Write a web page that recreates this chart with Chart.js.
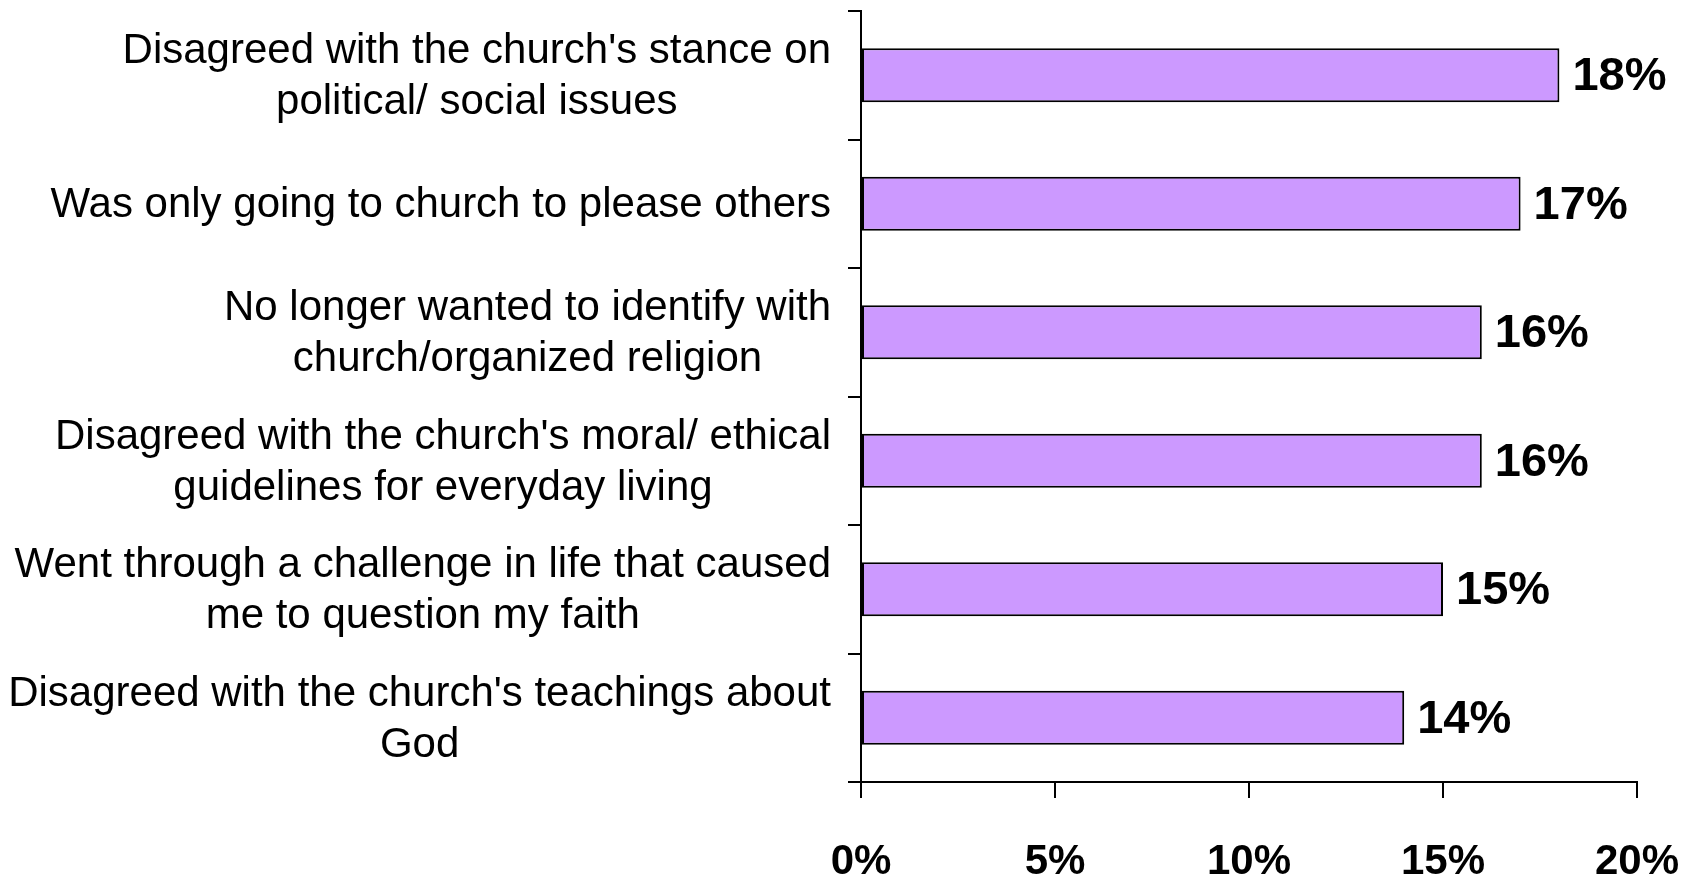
<!DOCTYPE html>
<html>
<head>
<meta charset="utf-8">
<script src="https://cdn.jsdelivr.net/npm/chart.js@4.4.0/dist/chart.umd.min.js"></script>
<style>
  html, body { margin: 0; padding: 0; background: #fff; }
  #wrap { width: 1694px; height: 876px; }
</style>
</head>
<body>
<div id="wrap"><canvas id="grafico"></canvas></div>
<script>
// reasons for leaving, top to bottom
const razones = [
    ["Disagreed with the church's stance on", "political/ social issues"],
    ["Was only going to church to please others"],
    ["No longer wanted to identify with", "church/organized religion"],
    ["Disagreed with the church's moral/ ethical", "guidelines for everyday living"],
    ["Went through a challenge in life that caused", "me to question my faith"],
    ["Disagreed with the church's teachings about", "God"]
];
const porcentajes = [18, 17, 16, 16, 15, 14];
const ticksX = [0, 5, 10, 15, 20];

const FUENTE = '"Liberation Sans", Arial, Helvetica, sans-serif';

// category labels: block right-aligned against the axis, lines centered inside it
const etiquetasCategoria = {
    id: 'etiquetasCategoria',
    afterDraw(chart) {
        const ctx = chart.ctx;
        const y = chart.scales.y;
        const derecha = chart.chartArea.left - 30;
        ctx.save();
        ctx.font = '42px ' + FUENTE;
        ctx.fillStyle = '#000';
        ctx.textAlign = 'center';
        ctx.textBaseline = 'middle';
        razones.forEach((lineas, i) => {
            const cy = y.getPixelForValue(i) + 2;
            const ancho = Math.max(...lineas.map(l => ctx.measureText(l).width));
            const cx = derecha - ancho / 2;
            lineas.forEach((l, j) => {
                ctx.fillText(l, cx, cy + (j - (lineas.length - 1) / 2) * 51);
            });
        });
        ctx.restore();
    }
};

// value labels at the end of each bar
const etiquetasValor = {
    id: 'etiquetasValor',
    afterDatasetsDraw(chart) {
        const ctx = chart.ctx;
        ctx.save();
        ctx.font = 'bold 47px ' + FUENTE;
        ctx.fillStyle = '#000';
        ctx.textAlign = 'left';
        ctx.textBaseline = 'middle';
        chart.getDatasetMeta(0).data.forEach((bar, i) => {
            ctx.fillText(porcentajes[i] + '%', bar.x + 13, bar.y + 2);
        });
        ctx.restore();
    }
};

new Chart(document.getElementById('grafico'), {
    type: 'bar',
    data: {
        labels: razones,
        datasets: [{
            data: porcentajes,
            backgroundColor: '#CC99FF',
            borderColor: '#000',
            borderWidth: 2,
            borderSkipped: false,
            barPercentage: 0.42,
            categoryPercentage: 1.0
        }]
    },
    options: {
        indexAxis: 'y',
        responsive: true,
        maintainAspectRatio: false,
        animation: false,
        layout: { padding: { top: 11, right: 57, left: 0, bottom: 0 } },
        plugins: {
            legend: { display: false },
            tooltip: { enabled: false }
        },
        scales: {
            x: {
                min: 0,
                max: 20,
                afterBuildTicks(scale) {
                    scale.ticks = ticksX.map(v => ({ value: v }));
                },
                afterFit(scale) {
                    scale.height = 94;
                    scale.paddingLeft = 0;
                    scale.paddingRight = 0;
                },
                ticks: {
                    callback: v => v + '%',
                    color: '#000',
                    font: { family: FUENTE, size: 42, weight: 'bold' },
                    padding: 39,
                    maxRotation: 0
                },
                grid: {
                    drawOnChartArea: false,
                    drawTicks: true,
                    tickLength: 16,
                    color: '#000',
                    lineWidth: 2
                },
                border: { display: true, color: '#000', width: 2 }
            },
            y: {
                afterFit(scale) {
                    scale.width = 861;
                    scale.paddingTop = 0;
                    scale.paddingBottom = 0;
                },
                ticks: { display: false },
                grid: {
                    offset: true,
                    drawOnChartArea: false,
                    drawTicks: true,
                    tickLength: 13,
                    color: '#000',
                    lineWidth: 2
                },
                border: { display: true, color: '#000', width: 2 }
            }
        }
    },
    plugins: [etiquetasCategoria, etiquetasValor]
});
</script>
</body>
</html>
